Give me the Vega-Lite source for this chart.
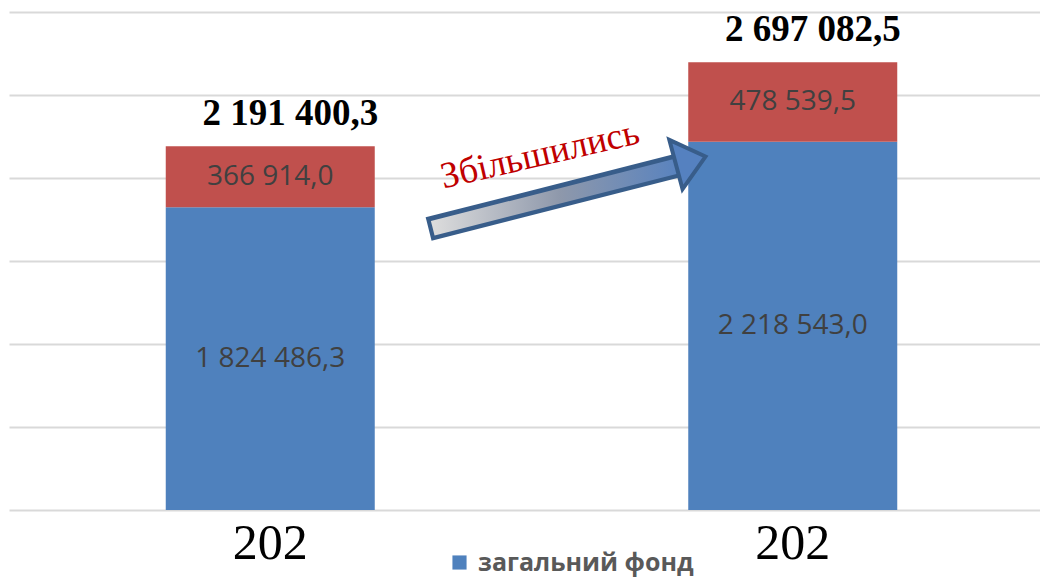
{
  "$schema": "https://vega.github.io/schema/vega-lite/v6.json",
  "width": 1031,
  "height": 498,
  "autosize": {"type": "none"},
  "padding": {"left": 9, "top": 12, "right": 0, "bottom": 67},
  "background": "white",
  "config": {
    "view": {"stroke": null},
    "locale": {"number": {"decimal": ",", "thousands": " ", "grouping": [3], "currency": ["", ""]}}
  },
  "datasets": {
    "funds": [
      {"year": "2021", "fund": "загальний фонд", "value": 1824486.3},
      {"year": "2021", "fund": "спеціальний фонд", "value": 366914.0},
      {"year": "2022", "fund": "загальний фонд", "value": 2218543.0},
      {"year": "2022", "fund": "спеціальний фонд", "value": 478539.5}
    ],
    "note": [{"label": "Збільшились"}]
  },
  "resolve": {"scale": {"x": "independent"}, "axis": {"x": "independent"}},
  "layer": [
    {
      "data": {"name": "funds"},
      "transform": [
        {"stack": "value", "groupby": ["year"], "sort": [{"field": "fund", "order": "ascending"}], "as": ["v0", "v1"]},
        {"calculate": "(datum.v0 + datum.v1) / 2", "as": "mid"}
      ],
      "encoding": {
        "x": {
          "field": "year", "type": "nominal",
          "scale": {"range": [0, 1045], "paddingInner": 0.6, "paddingOuter": 0.3},
          "axis": {
            "title": null, "domain": false, "ticks": false, "labelAngle": 0,
            "labelExpr": "slice(datum.label, 0, 3)",
            "labelFont": "Liberation Serif", "labelFontSize": 50, "labelColor": "#000000",
            "labelPadding": 8, "labelBaseline": "top"
          }
        }
      },
      "layer": [
        {
          "mark": {"type": "bar"},
          "encoding": {
            "y": {
              "field": "v0", "type": "quantitative",
              "scale": {"domain": [0, 3000000], "nice": false},
              "axis": {
                "title": null, "labels": false, "ticks": false, "domain": false,
                "values": [0, 500000, 1000000, 1500000, 2000000, 2500000, 3000000],
                "gridColor": "#d9d9d9", "gridWidth": 2
              }
            },
            "y2": {"field": "v1"},
            "color": {
              "field": "fund", "type": "nominal",
              "scale": {"domain": ["загальний фонд", "спеціальний фонд"], "range": ["#4f81bd", "#c0504d"]},
              "legend": {
                "title": null, "orient": "none", "legendX": 438, "legendY": 538,
                "values": ["загальний фонд"],
                "symbolType": "square", "symbolSize": 200, "symbolStrokeWidth": 0,
                "labelFont": "Open Sans", "labelFontWeight": "bold", "labelFontSize": 25,
                "labelColor": "#595959", "labelOffset": 6, "labelLimit": 400
              }
            }
          }
        },
        {
          "mark": {"type": "text", "font": "Open Sans", "fontSize": 28, "color": "#404040", "baseline": "middle"},
          "encoding": {
            "y": {"field": "mid", "type": "quantitative"},
            "text": {"field": "value", "type": "quantitative", "format": ",.1f"}
          }
        }
      ]
    },
    {
      "data": {"name": "funds"},
      "transform": [
        {"aggregate": [{"op": "sum", "field": "value", "as": "total"}], "groupby": ["year"]}
      ],
      "mark": {"type": "text", "font": "Liberation Serif", "fontWeight": "bold", "fontSize": 37, "color": "#000000", "baseline": "alphabetic", "dy": -21, "dx": 20},
      "encoding": {
        "x": {"field": "year", "type": "nominal", "scale": {"range": [0, 1045], "paddingInner": 0.6, "paddingOuter": 0.3}, "axis": null},
        "y": {"field": "total", "type": "quantitative"},
        "text": {"field": "total", "type": "quantitative", "format": ",.1f"}
      }
    },
    {
      "data": {"name": "note"},
      "layer": [
        {
          "mark": {"type": "rule", "stroke": "#385d8a", "strokeWidth": 24, "strokeCap": "butt"},
          "encoding": {
            "x": {"datum": 0.407, "type": "quantitative", "scale": {"domain": [0, 1]}, "axis": null},
            "y": {"datum": 1692771, "type": "quantitative"},
            "x2": {"datum": 0.655},
            "y2": {"datum": 2085000}
          }
        },
        {
          "mark": {
            "type": "rule", "strokeWidth": 15, "strokeCap": "butt",
            "stroke": {"gradient": "linear", "x1": 0, "y1": 0, "x2": 1, "y2": 0,
              "stops": [{"offset": 0, "color": "#dcdcdc"}, {"offset": 0.5, "color": "#8e98ab"}, {"offset": 1, "color": "#5581c0"}]}
          },
          "encoding": {
            "x": {"datum": 0.411, "type": "quantitative", "scale": {"domain": [0, 1]}, "axis": null},
            "y": {"datum": 1697000, "type": "quantitative"},
            "x2": {"datum": 0.658},
            "y2": {"datum": 2088000}
          }
        },
        {
          "mark": {
            "type": "point", "filled": true, "shape": "M-0.6,-1L0.6,0L-0.6,1Z", "size": 2600, "angle": -15,
            "fill": "#5581c0", "stroke": "#385d8a", "strokeWidth": 4, "opacity": 1
          },
          "encoding": {
            "x": {"datum": 0.6612, "type": "quantitative", "scale": {"domain": [0, 1]}, "axis": null},
            "y": {"datum": 2105422, "type": "quantitative"}
          }
        },
        {
          "mark": {"type": "text", "font": "Liberation Serif", "fontSize": 37, "color": "#c00000", "angle": -13, "align": "center", "baseline": "middle"},
          "encoding": {
            "x": {"datum": 0.515, "type": "quantitative", "scale": {"domain": [0, 1]}, "axis": null},
            "y": {"datum": 2138554, "type": "quantitative"},
            "text": {"field": "label", "type": "nominal"}
          }
        }
      ]
    }
  ]
}
